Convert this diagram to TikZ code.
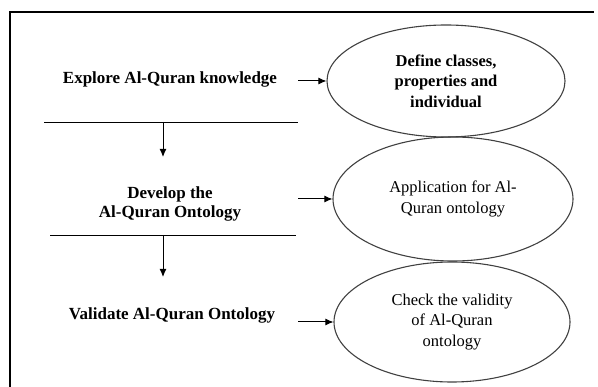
\documentclass[tikz,border=0pt]{standalone}
\usepackage{fontspec}
\setmainfont{Liberation Serif}
\usetikzlibrary{shapes,arrows,arrows.meta,positioning,calc}

\begin{document}
\begin{tikzpicture}[x=1pt,y=-1pt,
  stage/.style={font=\fontsize{17}{18.5}\selectfont\bfseries,align=center},
  task/.style={ellipse,draw=black!75,line width=1.1pt,inner sep=0pt,
    align=center,font=\fontsize{16.5}{20.5}\selectfont},
  flow/.style={-{Latex[length=8pt,width=7pt]},line width=1pt}]
      \useasboundingbox (0,0) rectangle (598,387);
      \draw[line width=1.2pt] (10,387) -- (10,12) -- (594,12);

      \node[stage](s1) at (170,79){Explore Al-Quran knowledge};
      \node[stage](s2) at (170,204){Develop the\\Al-Quran Ontology};
      \node[stage](s3) at (172,315){Validate Al-Quran Ontology};

      \node[task,minimum width=238,minimum height=112](e1) at (446,81)
        {\bfseries Define classes,\\\bfseries properties and\\\bfseries individual};
      \node[task,minimum width=240,minimum height=124](e2) at (453,199)
        {Application for Al-\\Quran ontology};
      \node[task,minimum width=236,minimum height=120](e3) at (452,322)
        {Check the validity\\of Al-Quran\\ontology};

      \coordinate(l1a) at (44,122);
      \coordinate(l1b) at (298,122);
      \coordinate(l2a) at (50,235);
      \coordinate(l2b) at (296,235);
      \coordinate(d1) at (163,122);
      \coordinate(d1e) at (163,157);
      \coordinate(d2) at (163,235);
      \coordinate(d2e) at (163,277);
      \coordinate(h1) at (298,81);
      \coordinate(h2) at (298,199);
      \coordinate(h3) at (298,322);

      \draw[] (l1a) -- (l1b);
      \draw[] (l2a) -- (l2b);
      \draw[flow] (d1) -- (d1e);
      \draw[flow] (d2) -- (d2e);
      \draw[flow] (h1) -- (e1.west);
      \draw[flow] (h2) -- (e2.west);
      \draw[flow] (h3) -- (e3.west);
\end{tikzpicture}
\end{document}
